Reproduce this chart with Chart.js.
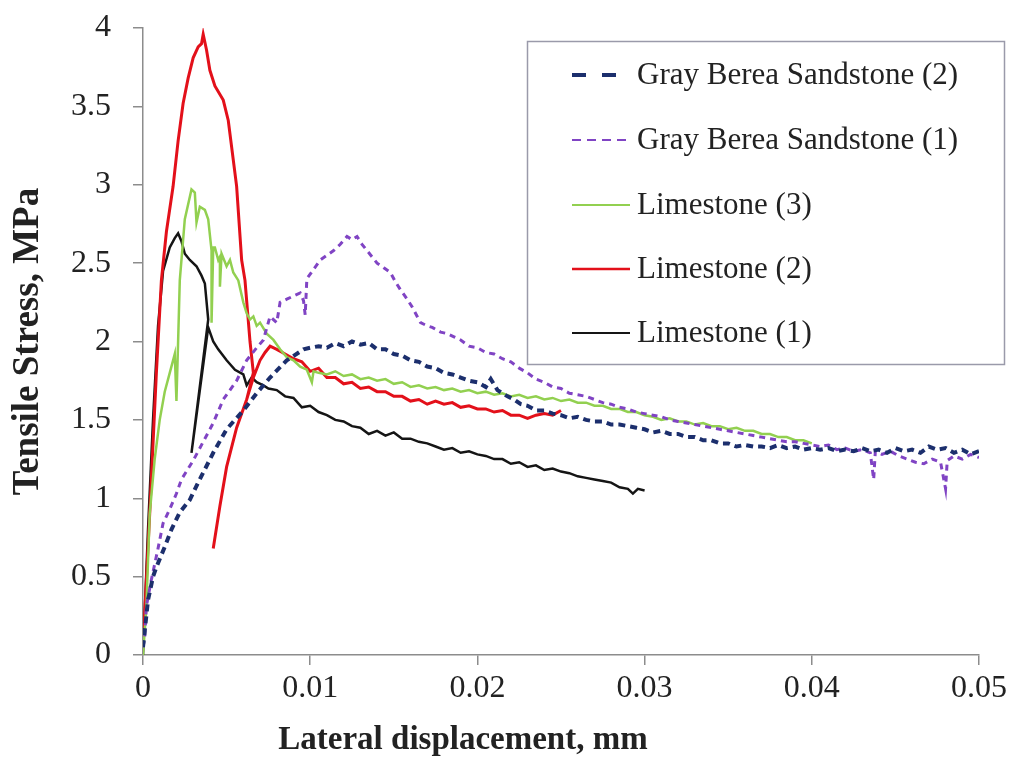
<!DOCTYPE html>
<html><head><meta charset="utf-8">
<script src="https://cdn.jsdelivr.net/npm/chart.js@4.4.1/dist/chart.umd.min.js"></script>
<style>html,body{margin:0;padding:0;background:#fff;}canvas{display:block;}</style>
</head><body>
<canvas id="c" width="1017" height="760"></canvas>
<script>
// ---- data (x: lateral displacement in mm, y: tensile stress in MPa) ----
const seriesLabels = ['Gray Berea Sandstone (2)', 'Gray Berea Sandstone (1)', 'Limestone (3)', 'Limestone (2)', 'Limestone (1)'];
const xTickLabels = ['0', '0.01', '0.02', '0.03', '0.04', '0.05'];
const yTickLabels = ['0', '0.5', '1', '1.5', '2', '2.5', '3', '3.5', '4'];
const xTitle = 'Lateral displacement, mm';
const yTitle = 'Tensile Stress, MPa';

const graySandstone2 = [[0,0.05],[0.0003,0.35],[0.0006,0.5],[0.0008,0.56],[0.0013,0.69],[0.0017,0.80],[0.0022,0.91],[0.0028,0.99],[0.0033,1.10],[0.0042,1.29],[0.0050,1.44],[0.0060,1.56],[0.0068,1.67],[0.0076,1.77],[0.0086,1.88],[0.0096,1.95],[0.0100,1.96],[0.0105,1.97],[0.0110,1.96],[0.0115,1.99],[0.0120,1.97],[0.0125,2.00],[0.0130,1.98],[0.0135,1.99],[0.0140,1.95],[0.0145,1.95],[0.0150,1.92],[0.0155,1.91],[0.0160,1.88],[0.0165,1.87],[0.0170,1.84],[0.0175,1.83],[0.0180,1.80],[0.0185,1.79],[0.0190,1.77],[0.0195,1.75],[0.0200,1.74],[0.0205,1.71],[0.0208,1.76],[0.0212,1.69],[0.0218,1.65],[0.0222,1.63],[0.0226,1.60],[0.0230,1.59],[0.0235,1.56],[0.0240,1.56],[0.0245,1.54],[0.0250,1.53],[0.0255,1.51],[0.0260,1.52],[0.0265,1.50],[0.0270,1.49],[0.0275,1.49],[0.0280,1.47],[0.0285,1.47],[0.0290,1.46],[0.0295,1.45],[0.0300,1.44],[0.0305,1.42],[0.0310,1.43],[0.0315,1.41],[0.0320,1.41],[0.0325,1.39],[0.0330,1.39],[0.0335,1.37],[0.0340,1.37],[0.0345,1.35],[0.0350,1.35],[0.0355,1.33],[0.0360,1.34],[0.0365,1.33],[0.0370,1.33],[0.0375,1.32],[0.0380,1.34],[0.0385,1.32],[0.0390,1.33],[0.0395,1.31],[0.0400,1.32],[0.0405,1.31],[0.0410,1.32],[0.0415,1.30],[0.0420,1.31],[0.0425,1.30],[0.0430,1.32],[0.0435,1.30],[0.0440,1.31],[0.0445,1.29],[0.0450,1.32],[0.0455,1.30],[0.0460,1.31],[0.0465,1.29],[0.0470,1.33],[0.0475,1.31],[0.0480,1.32],[0.0485,1.29],[0.0490,1.31],[0.0495,1.28],[0.0500,1.30]];

const graySandstone1 = [[0,0.05],[0.0001,0.11],[0.0002,0.31],[0.0005,0.48],[0.0009,0.68],[0.0012,0.84],[0.0016,0.93],[0.0020,1.03],[0.0023,1.12],[0.0030,1.24],[0.0036,1.36],[0.0042,1.48],[0.0048,1.63],[0.0056,1.75],[0.0062,1.88],[0.0068,1.96],[0.0072,2.01],[0.0076,2.16],[0.0080,2.12],[0.0082,2.25],[0.0086,2.27],[0.0090,2.29],[0.0094,2.31],[0.0096,2.26],[0.0097,2.17],[0.0098,2.40],[0.0102,2.46],[0.0106,2.52],[0.0110,2.55],[0.0114,2.58],[0.0118,2.62],[0.0122,2.67],[0.0125,2.65],[0.0128,2.67],[0.0131,2.62],[0.0134,2.58],[0.0137,2.54],[0.0140,2.50],[0.0144,2.47],[0.0148,2.44],[0.0151,2.38],[0.0154,2.33],[0.0158,2.27],[0.0161,2.22],[0.0164,2.16],[0.0166,2.12],[0.0170,2.10],[0.0173,2.09],[0.0178,2.06],[0.0182,2.05],[0.0186,2.03],[0.0190,2.01],[0.0195,1.97],[0.0200,1.96],[0.0205,1.93],[0.0210,1.92],[0.0215,1.89],[0.0220,1.87],[0.0225,1.83],[0.0230,1.80],[0.0235,1.76],[0.0240,1.74],[0.0245,1.71],[0.0250,1.70],[0.0255,1.67],[0.0260,1.66],[0.0265,1.65],[0.0270,1.63],[0.0275,1.61],[0.0280,1.60],[0.0285,1.58],[0.0290,1.57],[0.0295,1.55],[0.0300,1.54],[0.0305,1.53],[0.0310,1.52],[0.0315,1.50],[0.0320,1.49],[0.0325,1.48],[0.0330,1.47],[0.0335,1.46],[0.0340,1.45],[0.0345,1.44],[0.0350,1.43],[0.0355,1.42],[0.0360,1.41],[0.0365,1.40],[0.0370,1.39],[0.0375,1.38],[0.0380,1.37],[0.0385,1.36],[0.0390,1.36],[0.0395,1.35],[0.0400,1.34],[0.0405,1.33],[0.0410,1.34],[0.0415,1.31],[0.0420,1.32],[0.0425,1.30],[0.0430,1.31],[0.0435,1.29],[0.0437,1.12],[0.0438,1.30],[0.0442,1.28],[0.0447,1.30],[0.0452,1.27],[0.0457,1.25],[0.0462,1.23],[0.0467,1.22],[0.0472,1.25],[0.0477,1.23],[0.0480,1.06],[0.0481,1.24],[0.0485,1.27],[0.0490,1.25],[0.0495,1.28],[0.0500,1.26]];

const limestone3 = [[0,0],[0.0002,0.3],[0.0004,0.9],[0.0007,1.25],[0.0010,1.5],[0.0013,1.68],[0.0016,1.8],[0.0019,1.92],[0.0020,1.62],[0.0021,2.0],[0.0022,2.39],[0.0025,2.78],[0.0029,2.97],[0.0031,2.95],[0.0032,2.76],[0.0034,2.86],[0.0037,2.84],[0.0039,2.78],[0.0041,2.58],[0.0041,2.12],[0.0042,2.6],[0.0043,2.60],[0.0045,2.52],[0.0046,2.54],[0.0046,2.35],[0.0047,2.56],[0.0050,2.48],[0.0052,2.52],[0.0054,2.44],[0.0057,2.39],[0.0060,2.25],[0.0062,2.18],[0.0064,2.14],[0.0066,2.16],[0.0068,2.10],[0.0070,2.12],[0.0074,2.05],[0.0078,2.01],[0.0082,1.95],[0.0086,1.90],[0.0090,1.88],[0.0094,1.84],[0.0098,1.82],[0.0101,1.74],[0.0102,1.81],[0.0105,1.80],[0.0110,1.79],[0.0115,1.81],[0.0120,1.78],[0.0125,1.79],[0.0130,1.76],[0.0135,1.77],[0.0140,1.75],[0.0145,1.76],[0.0150,1.73],[0.0155,1.74],[0.0160,1.71],[0.0165,1.72],[0.0170,1.70],[0.0175,1.71],[0.0180,1.69],[0.0185,1.70],[0.0190,1.68],[0.0195,1.69],[0.0200,1.67],[0.0205,1.68],[0.0210,1.66],[0.0215,1.67],[0.0220,1.65],[0.0225,1.66],[0.0230,1.64],[0.0235,1.65],[0.0240,1.63],[0.0245,1.64],[0.0250,1.62],[0.0255,1.63],[0.0260,1.61],[0.0265,1.61],[0.0270,1.59],[0.0275,1.59],[0.0280,1.57],[0.0285,1.57],[0.0290,1.55],[0.0295,1.55],[0.0300,1.53],[0.0305,1.52],[0.0310,1.50],[0.0315,1.51],[0.0320,1.49],[0.0325,1.49],[0.0330,1.47],[0.0335,1.48],[0.0340,1.46],[0.0345,1.46],[0.0350,1.44],[0.0355,1.45],[0.0360,1.43],[0.0365,1.43],[0.0370,1.41],[0.0375,1.41],[0.0380,1.39],[0.0385,1.39],[0.0390,1.37],[0.0395,1.37],[0.0400,1.35]];

const limestone2 = [[0,0.05],[0.0004,0.9],[0.0008,1.8],[0.0011,2.39],[0.0014,2.7],[0.0018,2.99],[0.0021,3.28],[0.0024,3.52],[0.0027,3.68],[0.0030,3.81],[0.0033,3.88],[0.0035,3.9],[0.0036,3.96],[0.0038,3.86],[0.0040,3.73],[0.0043,3.63],[0.0048,3.54],[0.0051,3.41],[0.0056,2.99],[0.0059,2.52],[0.0061,2.39],[0.0064,2.0],[0.0066,1.80],[0.0062,1.63],[0.0056,1.45],[0.0050,1.20],[0.0046,0.95],[0.0042,0.68],[0.0046,0.95],[0.0050,1.20],[0.0056,1.45],[0.0062,1.63],[0.0066,1.77],[0.0070,1.88],[0.0073,1.93],[0.0076,1.97],[0.0080,1.95],[0.0085,1.92],[0.0090,1.89],[0.0095,1.87],[0.0100,1.81],[0.0105,1.83],[0.0110,1.77],[0.0115,1.77],[0.0120,1.73],[0.0125,1.74],[0.0130,1.70],[0.0135,1.71],[0.0140,1.68],[0.0145,1.68],[0.0150,1.65],[0.0155,1.65],[0.0160,1.62],[0.0165,1.63],[0.0170,1.60],[0.0175,1.62],[0.0180,1.60],[0.0185,1.61],[0.0190,1.58],[0.0195,1.59],[0.0200,1.57],[0.0205,1.57],[0.0210,1.55],[0.0215,1.56],[0.0220,1.53],[0.0225,1.53],[0.0230,1.51],[0.0235,1.53],[0.0240,1.54],[0.0245,1.53],[0.0250,1.56]];

const limestone1 = [[0,0],[0.0003,0.8],[0.0006,1.5],[0.0009,2.1],[0.0012,2.45],[0.0016,2.6],[0.0019,2.66],[0.0021,2.69],[0.0023,2.64],[0.0025,2.56],[0.0028,2.52],[0.0032,2.48],[0.0035,2.42],[0.0037,2.37],[0.0039,2.14],[0.0029,1.29],[0.0039,2.09],[0.0042,2.0],[0.0045,1.95],[0.0050,1.88],[0.0055,1.82],[0.0060,1.79],[0.0062,1.72],[0.0065,1.77],[0.0068,1.74],[0.0072,1.72],[0.0075,1.70],[0.0080,1.69],[0.0085,1.65],[0.0090,1.64],[0.0095,1.58],[0.0100,1.59],[0.0105,1.55],[0.0110,1.53],[0.0115,1.50],[0.0120,1.49],[0.0125,1.46],[0.0130,1.45],[0.0135,1.41],[0.0140,1.43],[0.0145,1.40],[0.0150,1.42],[0.0155,1.38],[0.0160,1.38],[0.0165,1.36],[0.0170,1.35],[0.0175,1.33],[0.0180,1.31],[0.0185,1.32],[0.0190,1.29],[0.0195,1.30],[0.0200,1.28],[0.0205,1.27],[0.0210,1.25],[0.0215,1.25],[0.0220,1.22],[0.0225,1.23],[0.0230,1.20],[0.0235,1.21],[0.0240,1.18],[0.0245,1.19],[0.0250,1.17],[0.0255,1.16],[0.0260,1.14],[0.0265,1.13],[0.0270,1.12],[0.0275,1.11],[0.0280,1.10],[0.0285,1.07],[0.0290,1.06],[0.0293,1.03],[0.0296,1.06],[0.0300,1.05]];

// ---- styles ----
const FONT = '"Liberation Serif", "Times New Roman", serif';
const TEXT = '#222222';
const AXIS = '#8c8c8c';

const toXY = arr => arr.map(p => ({x: p[0], y: p[1]}));

const datasets = [
  {label: seriesLabels[0], data: toXY(graySandstone2), borderColor: '#1c2f6d', borderWidth: 4, borderDash: [7, 5], legendDash: [14, 16], legendWidth: 4},
  {label: seriesLabels[1], data: toXY(graySandstone1), borderColor: '#8044c4', borderWidth: 3, borderDash: [6, 5], legendDash: [9, 6], legendWidth: 2},
  {label: seriesLabels[2], data: toXY(limestone3), borderColor: '#92d050', borderWidth: 2.5, borderDash: [], legendDash: [], legendWidth: 2},
  {label: seriesLabels[3], data: toXY(limestone2), borderColor: '#e3101a', borderWidth: 3, borderDash: [], legendDash: [], legendWidth: 2.5},
  {label: seriesLabels[4], data: toXY(limestone1), borderColor: '#151515', borderWidth: 2.5, borderDash: [], legendDash: [], legendWidth: 2}
].map(d => Object.assign(d, {showLine: true, pointRadius: 0, tension: 0, fill: false}));

const boxLegend = {
  id: 'boxLegend',
  afterDraw(chart) {
    const ctx = chart.ctx;
    ctx.save();
    ctx.strokeStyle = '#9a9aaa';
    ctx.lineWidth = 1.5;
    ctx.setLineDash([]);
    ctx.strokeRect(527.5, 41.5, 477, 323);
    const rowY = [75, 140, 205, 269, 333];
    chart.data.datasets.forEach((ds, i) => {
      const y = rowY[i];
      ctx.beginPath();
      ctx.setLineDash(ds.legendDash);
      ctx.lineWidth = ds.legendWidth;
      ctx.strokeStyle = ds.borderColor;
      ctx.moveTo(572, y);
      ctx.lineTo(i === 0 ? 618 : 630, y);
      ctx.stroke();
      ctx.setLineDash([]);
      ctx.fillStyle = TEXT;
      ctx.font = '31px ' + FONT;
      ctx.textAlign = 'left';
      ctx.textBaseline = 'middle';
      ctx.fillText(ds.label, 637, y + 1);
    });
    ctx.fillStyle = TEXT;
    ctx.font = 'bold 33px ' + FONT;
    ctx.textAlign = 'center';
    ctx.textBaseline = 'middle';
    ctx.fillText(xTitle, 463, 740);
    ctx.restore();
  }
};

new Chart(document.getElementById('c'), {
  type: 'scatter',
  data: {datasets},
  plugins: [boxLegend],
  options: {
    responsive: false,
    animation: false,
    layout: {padding: {top: 28, right: 38, left: 0, bottom: 0}},
    plugins: {legend: {display: false}, tooltip: {enabled: false}},
    scales: {
      x: {
        type: 'linear', min: 0, max: 0.05,
        ticks: {stepSize: 0.01, color: TEXT, font: {family: FONT, size: 32}, padding: 4,
                callback: (v, i) => xTickLabels[i]},
        grid: {drawOnChartArea: false, drawTicks: true, tickLength: 10, color: AXIS, lineWidth: 1.5},
        border: {color: AXIS, width: 1.5},
        title: {display: false},
        afterFit: s => { s.height = 105; s.paddingLeft = 0; s.paddingRight = 0; }
      },
      y: {
        type: 'linear', min: 0, max: 4,
        ticks: {stepSize: 0.5, color: TEXT, font: {family: FONT, size: 32}, padding: 22,
                callback: (v, i) => yTickLabels[i]},
        grid: {drawOnChartArea: false, drawTicks: true, tickLength: 10, color: AXIS, lineWidth: 1.5},
        border: {color: AXIS, width: 1.5},
        title: {display: true, text: yTitle, color: TEXT, font: {family: FONT, size: 37, weight: 'bold'}, padding: {top: 6, bottom: 0}},
        afterFit: s => { s.width = 143; s.paddingTop = 0; s.paddingBottom = 0; }
      }
    }
  }
});
</script>
</body></html>
